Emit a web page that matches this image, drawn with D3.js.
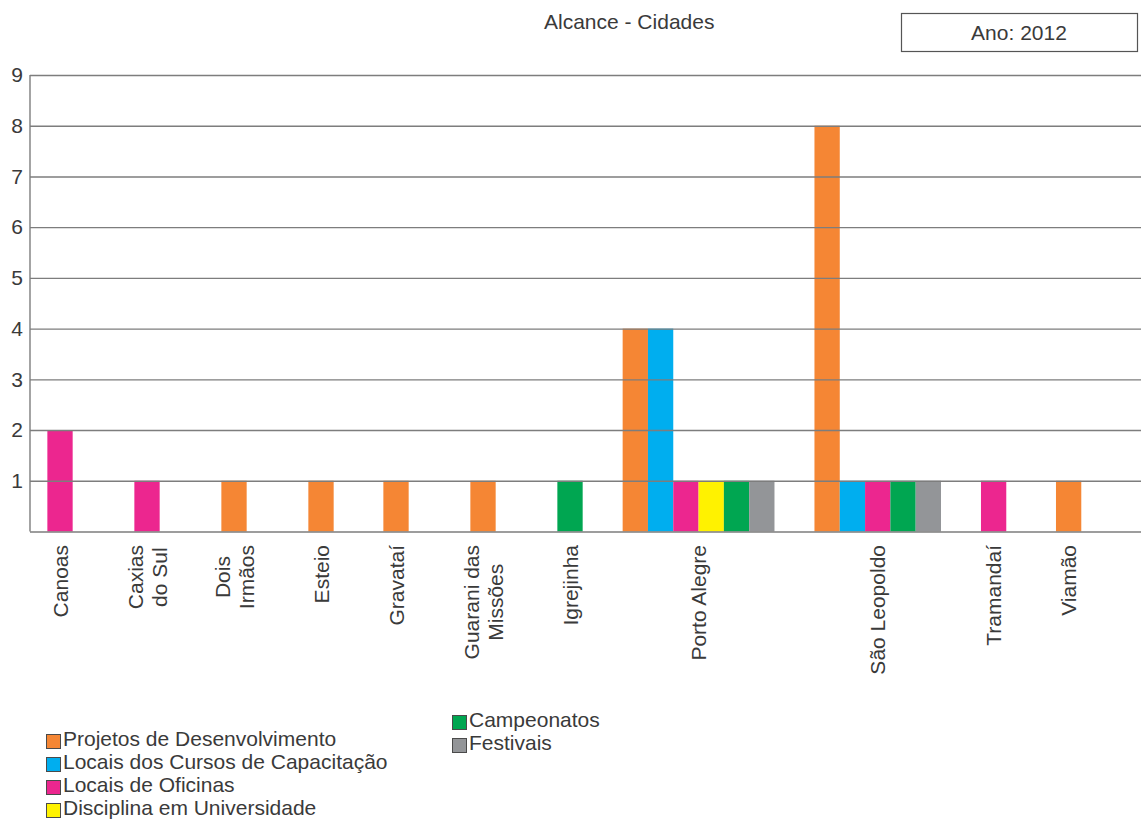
<!DOCTYPE html>
<html>
<head>
<meta charset="utf-8">
<script src="https://cdn.jsdelivr.net/npm/d3@7"></script>
<style>
  html, body { margin: 0; padding: 0; background: #ffffff; }
  svg { display: block; }
  text { font-family: "Liberation Sans", Arial, Helvetica, sans-serif; fill: #3a3a3a; }
</style>
</head>
<body>
<svg id="chart" width="1141" height="821"></svg>
<script>
// ---- Data -----------------------------------------------------------
const title = "Alcance - Cidades";
const yearLabel = "Ano: 2012";

const categories = ["Canoas", "Caxias do Sul", "Dois Irmãos", "Esteio", "Gravataí",
  "Guarani das Missões", "Igrejinha", "Porto Alegre", "São Leopoldo", "Tramandaí", "Viamão"];
const categoryLabels = [["Canoas"], ["Caxias", "do Sul"], ["Dois", "Irmãos"], ["Esteio"], ["Gravataí"],
  ["Guarani das", "Missões"], ["Igrejinha"], ["Porto Alegre"], ["São Leopoldo"], ["Tramandaí"], ["Viamão"]];

const seriesNames = ["Projetos de Desenvolvimento", "Locais dos Cursos de Capacitação",
  "Locais de Oficinas", "Disciplina em Universidade", "Campeonatos", "Festivais"];
const seriesColors = ["#f58634", "#00aeef", "#ec268f", "#fff200", "#00a651", "#939598"];

const projetos    = [0, 0, 1, 1, 1, 1, 0, 4, 8, 0, 1];
const cursos      = [0, 0, 0, 0, 0, 0, 0, 4, 1, 0, 0];
const oficinas    = [2, 1, 0, 0, 0, 0, 0, 1, 1, 1, 0];
const disciplina  = [0, 0, 0, 0, 0, 0, 0, 1, 0, 0, 0];
const campeonatos = [0, 0, 0, 0, 0, 0, 1, 1, 1, 0, 0];
const festivais   = [0, 0, 0, 0, 0, 0, 0, 1, 1, 0, 0];
const seriesValues = [projetos, cursos, oficinas, disciplina, campeonatos, festivais];

const yTicks = [1, 2, 3, 4, 5, 6, 7, 8, 9];

// ---- Layout -----------------------------------------------------------
const plot = { left: 30, right: 1141, top: 75, bottom: 531.5 };
const fontSize = 21;

// Group spacing in "bar slots": a group needs room for its bars and for its label lines.
const groupPad = 1.58, labelStep = 2.49, lineStep = 0.474, firstCenter = 1.186, tailPad = 2.36;

const groups = categories.map((c, i) => {
  const members = seriesValues
    .map((vals, s) => ({ s, value: vals[i] }))
    .filter(d => d.value > 0);
  return { name: c, lines: categoryLabels[i], members, n: members.length };
});
groups.forEach((g, i) => {
  if (i === 0) { g.center = firstCenter; return; }
  const p = groups[i - 1];
  const byBars = groupPad + (p.n + g.n) / 2;
  const byLabels = labelStep + lineStep * Math.max(p.lines.length, g.lines.length);
  g.center = p.center + Math.max(byBars, byLabels);
});
const last = groups[groups.length - 1];
const totalSlots = last.center + last.n / 2 + tailPad;

const x = d3.scaleLinear().domain([0, totalSlots]).range([plot.left, plot.right]);
const y = d3.scaleLinear().domain([0, 9]).range([plot.bottom, plot.top]);

const svg = d3.select("#chart");

// ---- Bars -----------------------------------------------------------
const bars = [];
groups.forEach(g => {
  g.members.forEach((m, k) => {
    const start = g.center - g.n / 2 + k;
    bars.push({ start, value: m.value, s: m.s });
  });
});
svg.append("g").selectAll("rect").data(bars).join("rect")
  .attr("x", d => x(d.start))
  .attr("width", d => x(d.start + 1) - x(d.start))
  .attr("y", d => y(d.value))
  .attr("height", d => y(0) - y(d.value))
  .attr("fill", d => seriesColors[d.s]);

// ---- Gridlines (drawn over the bars) ----------------------------------
const grid = svg.append("g")
  .attr("transform", `translate(${plot.left},0)`)
  .call(d3.axisLeft(y).tickValues(d3.range(0, 10)).tickSize(-(plot.right - plot.left)).tickFormat(""));
grid.select(".domain").remove();
grid.selectAll(".tick line").attr("stroke", "#7d7d7d").attr("stroke-width", 1.4);

// Vertical axis line
svg.append("line")
  .attr("x1", plot.left).attr("x2", plot.left)
  .attr("y1", y(9)).attr("y2", y(0))
  .attr("stroke", "#7d7d7d").attr("stroke-width", 1.4);

// Y tick labels
const yAxis = svg.append("g")
  .attr("transform", `translate(${plot.left},0)`)
  .call(d3.axisLeft(y).tickValues(yTicks).tickSize(0).tickPadding(7).tickFormat(d3.format("d")));
yAxis.select(".domain").remove();
yAxis.selectAll("text")
  .attr("font-size", fontSize)
  .style("font-family", '"Liberation Sans", Arial, sans-serif')
  .attr("fill", "#3a3a3a");

// ---- Category labels (rotated) ----------------------------------------
const labelTop = 545, linePitch = 24;
groups.forEach(g => {
  const cx = x(g.center);
  const t = svg.append("text")
    .attr("transform", `translate(${cx},${labelTop}) rotate(-90)`)
    .attr("font-size", fontSize)
    .attr("text-anchor", "middle");
  const nLines = g.lines.length;
  const spans = g.lines.map((line, li) => t.append("tspan")
    .attr("y", (li - (nLines - 1) / 2) * linePitch)
    .attr("dy", "0.36em")
    .text(line));
  const maxLen = d3.max(spans, s => s.node().getComputedTextLength());
  spans.forEach(s => s.attr("x", -maxLen / 2));
});

// ---- Title and year box ---------------------------------------------
svg.append("text")
  .attr("x", 544).attr("y", 29)
  .attr("font-size", fontSize)
  .text(title);

const box = { x: 901, y: 13, w: 236, h: 38 };
svg.append("rect")
  .attr("x", box.x + 0.5).attr("y", box.y + 0.5)
  .attr("width", box.w).attr("height", box.h)
  .attr("fill", "none").attr("stroke", "#555555").attr("stroke-width", 1.2);
svg.append("text")
  .attr("x", box.x + box.w / 2).attr("y", 40)
  .attr("text-anchor", "middle")
  .attr("font-size", fontSize)
  .text(yearLabel);

// ---- Legend -----------------------------------------------------------
const legendCols = [{ x: 46, firstBaseline: 746 }, { x: 452, firstBaseline: 727 }];
const legendPitch = 23, perCol = 4, swatch = 15;
const legend = svg.append("g");
seriesNames.forEach((name, i) => {
  const col = legendCols[Math.floor(i / perCol)];
  const row = i % perCol;
  const base = col.firstBaseline + row * legendPitch;
  legend.append("rect")
    .attr("x", col.x + 0.5).attr("y", base - 12 + 0.5)
    .attr("width", swatch - 1).attr("height", swatch - 1)
    .attr("fill", seriesColors[i])
    .attr("stroke", "#4a4a4a").attr("stroke-width", 1);
  legend.append("text")
    .attr("x", col.x + swatch + 2).attr("y", base)
    .attr("font-size", fontSize)
    .text(name);
});
</script>
</body>
</html>
